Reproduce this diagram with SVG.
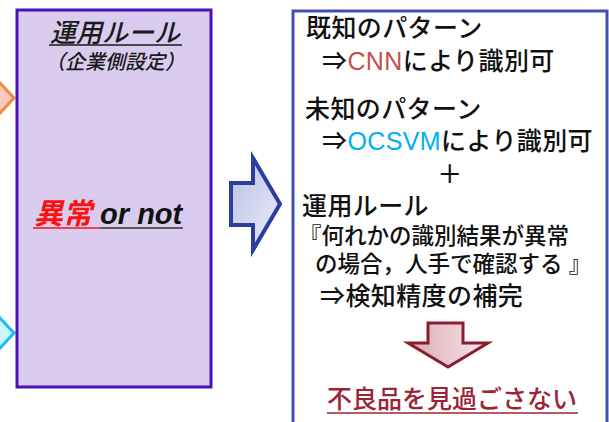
<svg xmlns="http://www.w3.org/2000/svg" width="609" height="422" viewBox="0 0 609 422">
<defs>
<linearGradient id="gBlue" x1="0" y1="0" x2="1" y2="1">
<stop offset="0" stop-color="#b8bde3"/>
<stop offset="1" stop-color="#eef0fa"/>
</linearGradient>
<linearGradient id="gRed" x1="0" y1="0" x2="1" y2="0">
<stop offset="0" stop-color="#d9aab3"/>
<stop offset="1" stop-color="#f7e7ea"/>
</linearGradient>
<style>
.jp{font-family:"Liberation Sans","Noto Sans CJK JP",sans-serif;}
.body{font-size:25px;fill:#111;font-weight:500;letter-spacing:0.4px;}
.small{font-size:22.5px;fill:#111;font-weight:500;}
</style>
</defs>
<rect width="609" height="422" fill="#ffffff"/>
<g id="orange-arrow">
<polygon points="-12,70 14,98 -12,126" fill="#fdc9bd" stroke="#f28a3b" stroke-width="3"/>
</g>
<g id="cyan-arrow">
<polygon points="-12,305 14,333 -12,361" fill="#c9f7fd" stroke="#1dbdf0" stroke-width="3"/>
</g>
<g id="rule-box">
<rect x="17" y="10" width="194" height="377" fill="#d9ccee" stroke="#4b12b5" stroke-width="3"/>
<text class="jp" x="115" y="42" font-size="26" font-style="italic" font-weight="500" text-anchor="middle" fill="#1a1a1a">運用ルール</text>
<line x1="49" y1="45" x2="182" y2="45" stroke="#1a1a1a" stroke-width="1.5"/>
<text class="jp" x="115" y="69" font-size="20" font-style="italic" font-weight="500" text-anchor="middle" fill="#1a1a1a">（企業側設定）</text>
<text class="jp" x="34" y="224" font-size="29" font-style="italic" font-weight="bold"><tspan fill="#ff1010">異常</tspan><tspan fill="#111"> or not</tspan></text>
<line x1="33" y1="228" x2="100" y2="228" stroke="#ff1010" stroke-width="1.5"/>
<line x1="100" y1="228" x2="183" y2="228" stroke="#333" stroke-width="1.5"/>
</g>
<g id="connectors">
<polygon points="231,183 253,183 253,158 280,204 253,250 253,225 231,225" fill="url(#gBlue)" stroke="#2b3d9e" stroke-width="4" stroke-linejoin="miter"/>
</g>
<g id="result-box">
<rect x="293" y="11" width="314" height="420" fill="#ffffff" stroke="#3f51b0" stroke-width="3"/>
<text class="jp body" x="306" y="37">既知のパターン</text>
<text class="jp body" x="322" y="70">⇒<tspan fill="#c0504d">CNN</tspan>により識別可</text>
<text class="jp body" x="305" y="118">未知のパターン</text>
<text class="jp body" x="322" y="150">⇒<tspan fill="#00b0f0">OCSVM</tspan>により識別可</text>
<text class="jp body" x="450" y="183" text-anchor="middle">＋</text>
<text class="jp body" x="302" y="215">運用ルール</text>
<text class="jp small" x="299" y="244">『何れかの識別結果が異常</text>
<text class="jp small" x="315" y="272">の場合，人手で確認する 』</text>
<text class="jp body" x="320" y="305">⇒検知精度の補完</text>
<polygon points="428,323 463,323 463,343 488,343 448,367 408,343 428,343" fill="url(#gRed)" stroke="#8c1c30" stroke-width="3"/>
<text class="jp" x="327" y="408" font-size="25" font-weight="500" fill="#9b2335">不良品を見過ごさない</text>
<line x1="327" y1="413" x2="578" y2="413" stroke="#9b2335" stroke-width="1.5"/>
</g>
</svg>
